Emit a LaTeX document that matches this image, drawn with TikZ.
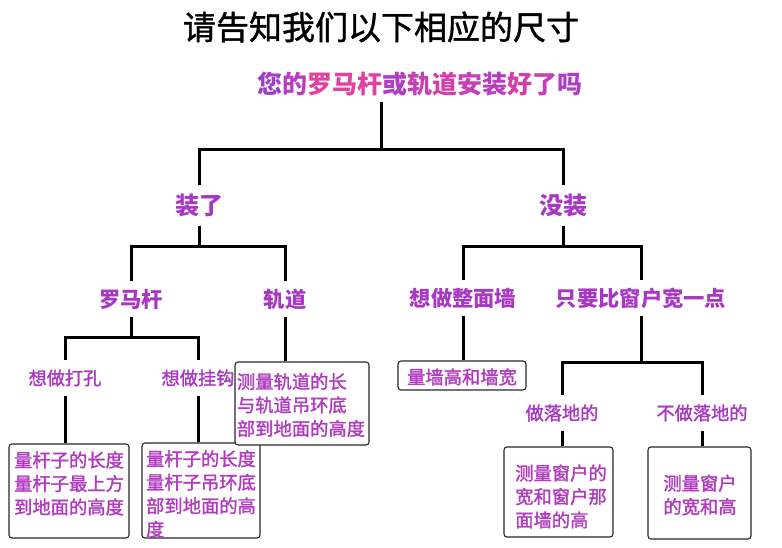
\documentclass[tikz,border=0pt]{standalone}
\usepackage{fontspec}
\newfontfamily\cjk{Noto Sans CJK SC}
\newfontfamily\cjkm[FakeBold=1.6]{Noto Sans CJK SC}
\newfontfamily\cjkt[FakeBold=1.2]{Noto Sans CJK SC}
\definecolor{lab}{RGB}{168,56,196}
\definecolor{boxc}{RGB}{178,58,192}
\definecolor{qa}{RGB}{160,62,204}
\definecolor{qb}{RGB}{186,60,192}
\definecolor{qc}{RGB}{228,64,160}
\definecolor{qd}{RGB}{176,60,200}
\definecolor{qe}{RGB}{214,60,170}
\definecolor{qf}{RGB}{200,62,180}
\definecolor{edgec}{RGB}{40,40,40}
\begin{document}
\begin{tikzpicture}[x=1pt,y=-1pt,
  tree/.style={line width=3pt,black},
  titlestyle/.style={font=\cjkt\fontsize{33}{38}\selectfont, text=black, inner sep=0pt},
  qst/.style={font=\cjk\bfseries\fontsize{25}{30}\selectfont, inner xsep=0pt, inner ysep=5.5pt, text height=22pt, text depth=3pt},
  lvltwo/.style={font=\cjk\bfseries\fontsize{24}{28}\selectfont, text=lab, inner xsep=0pt, inner ysep=8pt, text height=21.1pt, text depth=2.9pt},
  lvlthree/.style={font=\cjk\bfseries\fontsize{21.3}{25}\selectfont, text=lab, inner xsep=0pt, inner ysep=7pt, text height=18.7pt, text depth=2.6pt},
  lvlfour/.style={font=\cjkm\fontsize{18.2}{22}\selectfont, text=lab, inner xsep=0pt, inner ysep=8.5pt, text height=16pt, text depth=2.2pt},
  leaf/.style={draw=edgec, line width=1.1pt, rounded corners=3pt, fill=white, inner sep=0pt},
  leaftext/.style={font=\cjkm\fontsize{18.3}{23.5}\selectfont, text=boxc, align=left, inner sep=0pt}
]
\useasboundingbox (0,0) rectangle (782,548);
\fill[white] (0,0) rectangle (782,548);

% title and question
\node[titlestyle] (t) at (381,27) {请告知我们以下相应的尺寸};
\node[qst] (q) at (420,84) {\textcolor{qa}{您}\textcolor{qb}{的}\textcolor{qc}{罗马杆}\textcolor{qd}{或}\textcolor{qf}{轨}\textcolor{qe}{道}\textcolor{qf}{安}\textcolor{qb}{装}\textcolor{qe}{好}\textcolor{qf}{了}\textcolor{qd}{吗}};

% junctions
\coordinate (j1) at (381,150);
\coordinate (j2) at (199,247);
\coordinate (j3) at (563,247);
\coordinate (j4) at (131,337);
\coordinate (j5) at (641,362);

% labels
\node[lvltwo] (zl) at (199,205.5) {装了};
\node[lvltwo] (mz) at (563,205.5) {没装};
\node[lvlthree] (lmg) at (131,299) {罗马杆};
\node[lvlthree] (gd) at (285,299) {轨道};
\node[lvlthree] (zmq) at (463,298) {想做整面墙};
\node[lvlthree] (bck) at (641,298) {只要比窗户宽一点};
\node[lvlfour] (dk) at (65,378) {想做打孔};
\node[lvlfour] (gg) at (198,378) {想做挂钩};
\node[lvlfour] (ld) at (562,413) {做落地的};
\node[lvlfour] (bld) at (702,413) {不做落地的};

% leaf boxes
\node[leaf, minimum width=120pt, minimum height=94pt] (b1) at (69,491) {};
\node[leaf, minimum width=118pt, minimum height=95pt] (b2) at (201,490.5) {};
\node[leaf, minimum width=134pt, minimum height=83pt] (b3) at (302,403.5) {};
\node[leaf, minimum width=128pt, minimum height=29pt] (b4) at (462,375.5) {};
\node[leaf, minimum width=109pt, minimum height=90pt] (b5) at (558.5,492) {};
\node[leaf, minimum width=103pt, minimum height=92pt] (b6) at (699.5,493) {};

\node[leaftext] (t1) at (69,483.5) {量杆子的长度\\量杆子最上方\\到地面的高度};
\node[leaftext] (t2) at (201,494) {量杆子的长度\\量杆子吊环底\\部到地面的高\\度};
\node[leaftext] (t3) at (301,405) {测量轨道的长\\与轨道吊环底\\部到地面的高度};
\node[leaftext] (t4) at (462,377) {量墙高和墙宽};
\node[leaftext] (t5) at (561,496.5) {测量窗户的\\宽和窗户那\\面墙的高};
\node[leaftext] (t6) at (700,495) {测量窗户\\的宽和高};

% connectors
\draw[tree] (q.south -| j1) -- (j1);
\draw[tree] (zl) |- (j1) -| (mz);
\draw[tree] (zl) -- (j2);
\draw[tree] (lmg) |- (j2) -| (gd);
\draw[tree] (mz) -- (j3);
\draw[tree] (zmq) |- (j3) -| (bck);
\draw[tree] (lmg) -- (j4);
\draw[tree] (dk) |- (j4) -| (gg);
\draw[tree] (dk.south) -- (dk.south |- b1.north);
\draw[tree] (gg.south) -- (gg.south |- b2.north);
\draw[tree] (gd.south) -- (gd.south |- b3.north);
\draw[tree] (zmq.south) -- (zmq.south |- b4.north);
\draw[tree] (bck) -- (j5);
\draw[tree] (ld) |- (j5) -| (bld);
\draw[tree] (ld.south) -- (ld.south |- b5.north);
\draw[tree] (bld.south) -- (bld.south |- b6.north);
\end{tikzpicture}
\end{document}
